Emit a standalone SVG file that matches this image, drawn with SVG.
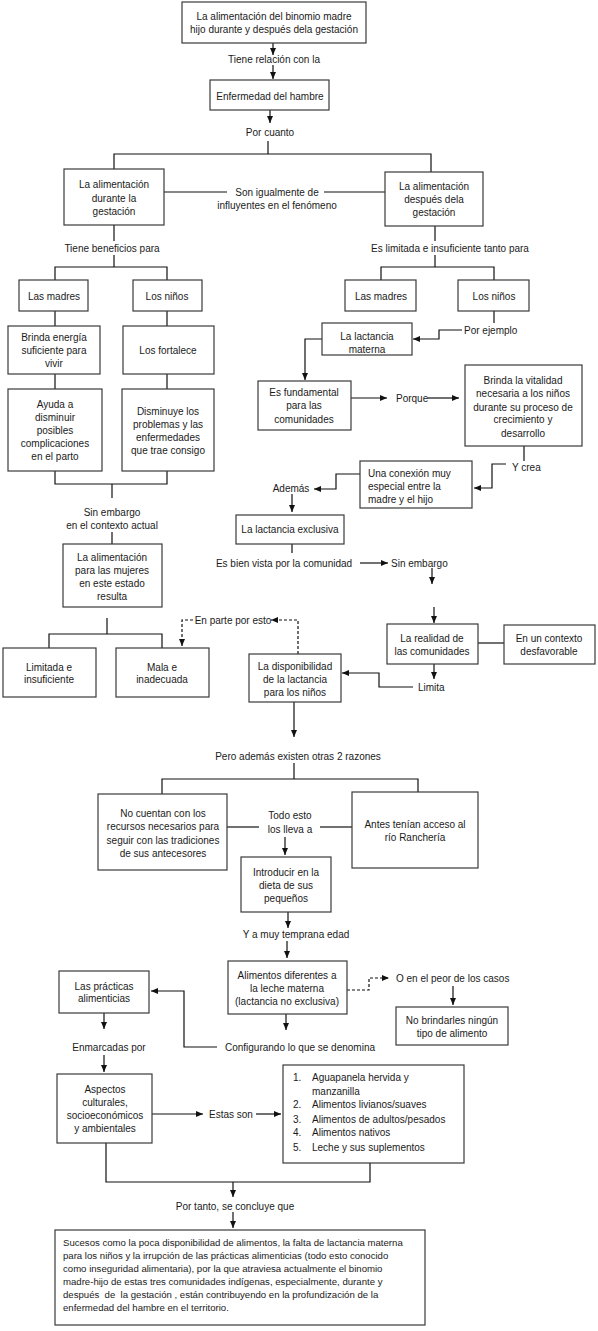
<svg xmlns="http://www.w3.org/2000/svg" width="598" height="1331" viewBox="0 0 598 1331">
<defs>
<style>
.b{fill:#fff;stroke:#3a3a3a;stroke-width:1.2}
.l{fill:none;stroke:#111;stroke-width:1.2}
.d{fill:none;stroke:#111;stroke-width:1.2;stroke-dasharray:3 2}
text{font-family:"Liberation Sans",Arial,sans-serif;font-size:10px;fill:#1a1a1a}
.c{text-anchor:middle}
.p{font-size:9.6px}
</style>
<marker id="a" viewBox="0 0 7 6" refX="7" refY="3" markerWidth="7" markerHeight="6" markerUnits="userSpaceOnUse" orient="auto"><path d="M0,0 L7,3 L0,6 z" fill="#111"/></marker>
</defs>
<rect width="598" height="1331" fill="#fff"/>

<g id="connectors">
<line class="l" x1="273" y1="43" x2="273" y2="55" marker-end="url(#a)"/>
<line class="l" x1="273" y1="65" x2="273" y2="79" marker-end="url(#a)"/>
<line class="l" x1="270" y1="110" x2="270" y2="123" marker-end="url(#a)"/>
<polyline class="l" points="268,141 268,154"/>
<polyline class="l" points="114,169 114,154 431,154 431,172"/>
<line class="l" x1="164" y1="192" x2="227" y2="192"/>
<line class="l" x1="324" y1="192" x2="385" y2="192"/>
<line class="l" x1="114" y1="225" x2="114" y2="241"/>
<line class="l" x1="114" y1="255" x2="114" y2="267"/>
<polyline class="l" points="55,280 55,267 167,267 167,280"/>
<line class="l" x1="55" y1="311" x2="55" y2="326"/>
<line class="l" x1="167" y1="311" x2="167" y2="326"/>
<line class="l" x1="55" y1="374" x2="55" y2="389"/>
<line class="l" x1="167" y1="374" x2="167" y2="389"/>
<polyline class="l" points="55,471 55,484 167,484 167,471"/>
<line class="l" x1="112" y1="484" x2="112" y2="498"/>
<line class="l" x1="112" y1="532" x2="112" y2="544"/>
<line class="l" x1="107" y1="618" x2="107" y2="634"/>
<polyline class="l" points="49,648 49,634 162,634 162,648"/>
<line class="l" x1="435" y1="226" x2="435" y2="241"/>
<line class="l" x1="435" y1="255" x2="435" y2="267"/>
<polyline class="l" points="381,280 381,267 494,267 494,280"/>
<line class="l" x1="494" y1="311" x2="494" y2="323"/>
<polyline class="l" points="462,330 439,330 439,339 413,339" marker-end="url(#a)"/>
<polyline class="l" points="322,339 305,339 305,380" marker-end="url(#a)"/>
<line class="l" x1="351" y1="398" x2="387" y2="398" marker-end="url(#a)"/>
<line class="l" x1="428" y1="398" x2="459" y2="398" marker-end="url(#a)"/>
<line class="l" x1="524" y1="446" x2="524" y2="461"/>
<polyline class="l" points="506,464 492,464 492,488 474,488" marker-end="url(#a)"/>
<polyline class="l" points="360,474 336,474 336,489 314,489" marker-end="url(#a)"/>
<line class="l" x1="292" y1="494" x2="292" y2="512" marker-end="url(#a)"/>
<line class="l" x1="292" y1="544" x2="292" y2="553"/>
<line class="l" x1="360" y1="563" x2="388" y2="563" marker-end="url(#a)"/>
<line class="l" x1="432" y1="568" x2="432" y2="584" marker-end="url(#a)"/>
<line class="l" x1="434" y1="607" x2="434" y2="623" marker-end="url(#a)"/>
<line class="l" x1="478" y1="643" x2="504" y2="643"/>
<line class="l" x1="434" y1="664" x2="434" y2="679" marker-end="url(#a)"/>
<polyline class="l" points="413,687 379,687 379,673 342,673" marker-end="url(#a)"/>
<polyline class="d" points="298,654 298,620 271,620" marker-end="url(#a)"/>
<polyline class="d" points="193,620 182,620 182,646" marker-end="url(#a)"/>
<line class="l" x1="294" y1="702" x2="294" y2="737" marker-end="url(#a)"/>
<line class="l" x1="294" y1="763" x2="294" y2="779"/>
<polyline class="l" points="162,794 162,779 418,779 418,792"/>
<line class="l" x1="227" y1="827" x2="259" y2="827"/>
<line class="l" x1="320" y1="827" x2="352" y2="827"/>
<line class="l" x1="285" y1="837" x2="285" y2="855" marker-end="url(#a)"/>
<line class="l" x1="288" y1="912" x2="288" y2="928" marker-end="url(#a)"/>
<line class="l" x1="287" y1="941" x2="287" y2="958" marker-end="url(#a)"/>
<polyline class="d" points="347,990 369,990 369,978 389,978" marker-end="url(#a)"/>
<line class="l" x1="453" y1="986" x2="453" y2="1005" marker-end="url(#a)"/>
<line class="l" x1="286" y1="1014" x2="286" y2="1030" marker-end="url(#a)"/>
<polyline class="l" points="217,1047 184,1047 184,991 151,991" marker-end="url(#a)"/>
<line class="l" x1="104" y1="1013" x2="104" y2="1029" marker-end="url(#a)"/>
<line class="l" x1="104" y1="1055" x2="104" y2="1072" marker-end="url(#a)"/>
<line class="l" x1="152" y1="1114" x2="203" y2="1114" marker-end="url(#a)"/>
<line class="l" x1="256" y1="1114" x2="281" y2="1114" marker-end="url(#a)"/>
<polyline class="l" points="106,1143 106,1182 370,1182 370,1163"/>
<line class="l" x1="233" y1="1182" x2="233" y2="1197" marker-end="url(#a)"/>
<line class="l" x1="233" y1="1212" x2="233" y2="1228" marker-end="url(#a)"/>
</g>

<g id="labels">
<text class="c" x="274" y="62.5">Tiene relación con la</text>
<text class="c" x="270" y="135.5">Por cuanto</text>
<text class="c" x="277" y="195.5">Son igualmente de</text>
<text class="c" x="277" y="208.5">influyentes en el fenómeno</text>
<text class="c" x="112" y="251.5">Tiene beneficios para</text>
<text class="c" x="450" y="251.5">Es limitada e insuficiente tanto para</text>
<text x="464" y="333.5">Por ejemplo</text>
<text x="396" y="401.5">Porque</text>
<text x="512" y="470.5">Y crea</text>
<text class="c" x="291" y="491.5">Además</text>
<text class="c" x="284" y="566.5">Es bien vista por la comunidad</text>
<text x="391" y="566.5">Sin embargo</text>
<text x="418" y="690.5">Limita</text>
<text class="c" x="233" y="623.5">En parte por esto</text>
<text class="c" x="112" y="515.5">Sin embargo</text>
<text class="c" x="112" y="528.5">en el contexto actual</text>
<text class="c" x="298" y="759.5">Pero además existen otras 2 razones</text>
<text class="c" x="290" y="818.5">Todo esto</text>
<text class="c" x="290" y="832.5">los lleva a</text>
<text class="c" x="296" y="937.5">Y a muy temprana edad</text>
<text x="396" y="981.5">O en el peor de los casos</text>
<text class="c" x="300" y="1050.5">Configurando lo que se denomina</text>
<text class="c" x="109" y="1050.5">Enmarcadas por</text>
<text x="209" y="1118">Estas son</text>
<text class="c" x="235" y="1209.5">Por tanto, se concluye que</text>
</g>

<g id="n1"><rect class="b" x="182" y="2" width="184" height="41"/>
<text class="c" x="274" y="19.5">La alimentación del binomio madre</text>
<text class="c" x="274" y="33">hijo durante y después dela gestación</text></g>
<g id="n2"><rect class="b" x="210" y="80" width="119" height="30"/>
<text class="c" x="270" y="99.5">Enfermedad del hambre</text></g>
<g id="n3"><rect class="b" x="64" y="169" width="100" height="56"/>
<text class="c" x="114" y="187.5">La alimentación</text>
<text class="c" x="114" y="201.5">durante la</text>
<text class="c" x="114" y="214.5">gestación</text></g>
<g id="n4"><rect class="b" x="385" y="172" width="98" height="54"/>
<text class="c" x="434" y="189.5">La alimentación</text>
<text class="c" x="434" y="202.5">después dela</text>
<text class="c" x="434" y="215.5">gestación</text></g>
<g id="n5"><rect class="b" x="19" y="280" width="69" height="31"/>
<text class="c" x="54" y="299.5">Las madres</text></g>
<g id="n6"><rect class="b" x="133" y="280" width="69" height="31"/>
<text class="c" x="167" y="299.5">Los niños</text></g>
<g id="n7"><rect class="b" x="8" y="326" width="92" height="48"/>
<text class="c" x="54" y="340.5">Brinda energía</text>
<text class="c" x="54" y="353.5">suficiente para</text>
<text class="c" x="54" y="366.5">vivir</text></g>
<g id="n8"><rect class="b" x="123" y="326" width="91" height="48"/>
<text class="c" x="168" y="353.5">Los fortalece</text></g>
<g id="n9"><rect class="b" x="8" y="389" width="94" height="82"/>
<text class="c" x="55" y="407.5">Ayuda a</text>
<text class="c" x="55" y="420.5">disminuir</text>
<text class="c" x="55" y="433.5">posibles</text>
<text class="c" x="55" y="446.5">complicaciones</text>
<text class="c" x="55" y="459.5">en el parto</text></g>
<g id="n10"><rect class="b" x="122" y="389" width="92" height="82"/>
<text class="c" x="168" y="414.5">Disminuye los</text>
<text class="c" x="168" y="427.5">problemas y las</text>
<text class="c" x="168" y="440.5">enfermedades</text>
<text class="c" x="168" y="453.5">que trae consigo</text></g>
<g id="n11"><rect class="b" x="63" y="544" width="99" height="63"/>
<text class="c" x="112" y="560.5">La alimentación</text>
<text class="c" x="112" y="573.5">para las mujeres</text>
<text class="c" x="112" y="586.5">en este estado</text>
<text class="c" x="112" y="599.5">resulta</text></g>
<g id="n12"><rect class="b" x="3" y="648" width="93" height="49"/>
<text class="c" x="49" y="670.5">Limitada e</text>
<text class="c" x="49" y="682.5">insuficiente</text></g>
<g id="n13"><rect class="b" x="116" y="648" width="93" height="49"/>
<text class="c" x="162" y="670.5">Mala e</text>
<text class="c" x="162" y="682.5">inadecuada</text></g>
<g id="n14"><rect class="b" x="345" y="280" width="71" height="31"/>
<text class="c" x="381" y="299.5">Las madres</text></g>
<g id="n15"><rect class="b" x="458" y="280" width="71" height="31"/>
<text class="c" x="494" y="299.5">Los niños</text></g>
<g id="n16"><rect class="b" x="322" y="323" width="90" height="32"/>
<text class="c" x="367" y="339.5">La lactancia</text>
<text class="c" x="367" y="352.5">materna</text></g>
<g id="n17"><rect class="b" x="258" y="381" width="93" height="49"/>
<text class="c" x="304" y="395.5">Es fundamental</text>
<text class="c" x="304" y="408.5">para las</text>
<text class="c" x="304" y="422.5">comunidades</text></g>
<g id="n18"><rect class="b" x="465" y="365" width="117" height="81"/>
<text class="c" x="523" y="383.5">Brinda la vitalidad</text>
<text class="c" x="523" y="396.5">necesaria a los niños</text>
<text class="c" x="523" y="410.5">durante su proceso de</text>
<text class="c" x="523" y="422.5">crecimiento y</text>
<text class="c" x="523" y="436.5">desarrollo</text></g>
<g id="n19"><rect class="b" x="360" y="461" width="112" height="47"/>
<text x="368" y="476.5">Una conexión muy</text>
<text x="368" y="489.5">especial entre la</text>
<text x="368" y="502.5">madre y el hijo</text></g>
<g id="n20"><rect class="b" x="236" y="515" width="108" height="29"/>
<text class="c" x="290" y="532.5">La lactancia exclusiva</text></g>
<g id="n21"><rect class="b" x="387" y="624" width="91" height="40"/>
<text class="c" x="432" y="641.5">La realidad de</text>
<text class="c" x="432" y="654.5">las comunidades</text></g>
<g id="n22"><rect class="b" x="504" y="625" width="91" height="39"/>
<text class="c" x="549" y="641.5">En un contexto</text>
<text class="c" x="549" y="654.5">desfavorable</text></g>
<g id="n23"><rect class="b" x="249" y="654" width="92" height="48"/>
<text class="c" x="295" y="669.5">La disponibilidad</text>
<text class="c" x="295" y="682.5">de la lactancia</text>
<text class="c" x="295" y="695.5">para los niños</text></g>
<g id="n24"><rect class="b" x="98" y="794" width="129" height="76"/>
<text class="c" x="163" y="816.5">No cuentan con los</text>
<text class="c" x="163" y="829.5">recursos necesarios para</text>
<text class="c" x="163" y="843.5">seguir con las tradiciones</text>
<text class="c" x="163" y="856.5">de sus antecesores</text></g>
<g id="n25"><rect class="b" x="352" y="792" width="126" height="76"/>
<text class="c" x="415" y="827.5">Antes tenían acceso al</text>
<text class="c" x="415" y="840.5">río Ranchería</text></g>
<g id="n26"><rect class="b" x="241" y="857" width="90" height="55"/>
<text class="c" x="286" y="875.5">Introducir en la</text>
<text class="c" x="286" y="888.5">dieta de sus</text>
<text class="c" x="286" y="901.5">pequeños</text></g>
<g id="n27"><rect class="b" x="228" y="961" width="119" height="53"/>
<text class="c" x="287" y="978.5">Alimentos diferentes a</text>
<text class="c" x="287" y="991.5">la leche materna</text>
<text class="c" x="287" y="1004.5">(lactancia no exclusiva)</text></g>
<g id="n28"><rect class="b" x="396" y="1007" width="112" height="38"/>
<text class="c" x="452" y="1023.5">No brindarles ningún</text>
<text class="c" x="452" y="1036.5">tipo de alimento</text></g>
<g id="n29"><rect class="b" x="59" y="971" width="90" height="42"/>
<text class="c" x="104" y="989.5">Las prácticas</text>
<text class="c" x="104" y="1001.5">alimenticias</text></g>
<g id="n30"><rect class="b" x="57" y="1074" width="95" height="69"/>
<text class="c" x="105" y="1092.5">Aspectos</text>
<text class="c" x="105" y="1105.5">culturales,</text>
<text class="c" x="105" y="1118.5">socioeconómicos</text>
<text class="c" x="105" y="1131.5">y ambientales</text></g>
<g id="n31"><rect class="b" x="283" y="1065" width="181" height="98"/>
<text x="293" y="1080.5">1.</text><text x="312" y="1080.5">Aguapanela hervida y</text>
<text x="312" y="1094.5">manzanilla</text>
<text x="293" y="1107.5">2.</text><text x="312" y="1107.5">Alimentos livianos/suaves</text>
<text x="293" y="1122.5">3.</text><text x="312" y="1122.5">Alimentos de adultos/pesados</text>
<text x="293" y="1135.5">4.</text><text x="312" y="1135.5">Alimentos nativos</text>
<text x="293" y="1150.5">5.</text><text x="312" y="1150.5">Leche y sus suplementos</text></g>
<g id="n32"><rect class="b" x="55" y="1230" width="370" height="95"/>
<text class="p" x="63" y="1245.5">Sucesos como la poca disponibilidad de alimentos, la falta de lactancia materna</text>
<text class="p" x="63" y="1258.5">para los niños y la irrupción de las prácticas alimenticias (todo esto conocido</text>
<text class="p" x="63" y="1271.5">como inseguridad alimentaria), por la que atraviesa actualmente el binomio</text>
<text class="p" x="63" y="1284.5">madre-hijo de estas tres comunidades indígenas, especialmente, durante y</text>
<text class="p" x="63" y="1298" xml:space="preserve">después  de  la gestación , están contribuyendo en la profundización de la</text>
<text class="p" x="63" y="1311">enfermedad del hambre en el territorio.</text></g>
</svg>
